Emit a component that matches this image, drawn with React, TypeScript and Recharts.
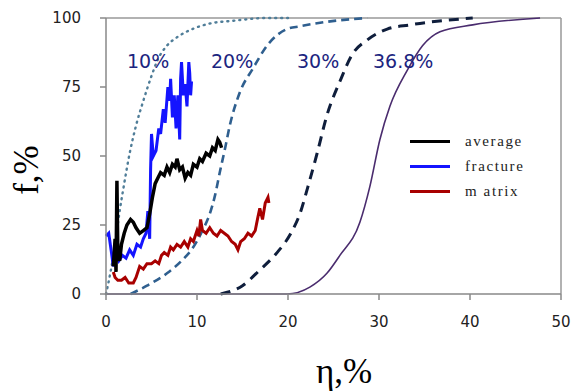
import React from "react";
import { LineChart, Line, XAxis, YAxis, ReferenceLine, Label } from "recharts";

const xTicks = [0, 10, 20, 30, 40, 50];
const yTicks = [0, 25, 50, 75, 100];

const curve10 = [
  { x: 0, y: 0 }, { x: 0.5, y: 8 }, { x: 1, y: 18 }, { x: 1.5, y: 30 }, { x: 2, y: 40 },
  { x: 2.6, y: 51 }, { x: 3.3, y: 61 }, { x: 4.1, y: 70 }, { x: 5, y: 79 }, { x: 5.7, y: 85 },
  { x: 6.7, y: 90 }, { x: 7.8, y: 93 }, { x: 9.5, y: 96 }, { x: 11.4, y: 98 }, { x: 14, y: 99 },
  { x: 17.7, y: 100 }, { x: 20, y: 100 },
];
const curve20 = [
  { x: 2.7, y: 0 }, { x: 4.5, y: 3 }, { x: 6.7, y: 7.5 }, { x: 8.3, y: 12 }, { x: 9.6, y: 17 },
  { x: 10.6, y: 23 }, { x: 11.4, y: 29 }, { x: 12, y: 36 }, { x: 12.5, y: 44 }, { x: 13.1, y: 53 },
  { x: 13.6, y: 61 }, { x: 14.7, y: 73 }, { x: 16.2, y: 82 }, { x: 17.7, y: 90 }, { x: 19.9, y: 96 },
  { x: 21.3, y: 97 }, { x: 24, y: 98.5 }, { x: 28.7, y: 100 },
];
const curve30 = [
  { x: 12.6, y: 0 }, { x: 15, y: 3 }, { x: 16.9, y: 8.7 }, { x: 18.8, y: 15 }, { x: 20.4, y: 22.5 },
  { x: 21.3, y: 29 }, { x: 22.2, y: 39 }, { x: 23.2, y: 51 }, { x: 24.3, y: 65 }, { x: 25.7, y: 77 },
  { x: 27.1, y: 87 }, { x: 28.7, y: 92 }, { x: 30.9, y: 96 }, { x: 33.4, y: 97.5 }, { x: 40.3, y: 100 },
];
const curve368 = [
  { x: 0, y: 0 }, { x: 19.9, y: 0 }, { x: 22.4, y: 2.5 }, { x: 24.3, y: 7.6 }, { x: 25.7, y: 14 },
  { x: 27.9, y: 26 }, { x: 29, y: 39 }, { x: 30.1, y: 56 }, { x: 31.2, y: 68 },
  { x: 33.1, y: 81 }, { x: 34.8, y: 90 }, { x: 36.7, y: 95 }, { x: 40.3, y: 97.5 }, { x: 47.7, y: 100 },
];

const fracture = [
  { x: 0, y: 21 }, { x: 0.3, y: 22 }, { x: 0.6, y: 15 }, { x: 0.8, y: 10 }, { x: 1.1, y: 14 },
  { x: 1.4, y: 12 }, { x: 1.8, y: 14 }, { x: 2.2, y: 13 }, { x: 2.6, y: 16 }, { x: 3.0, y: 14 },
  { x: 3.4, y: 18 }, { x: 3.8, y: 17 }, { x: 4.1, y: 20 }, { x: 4.4, y: 22 }, { x: 4.6, y: 30 },
  { x: 4.8, y: 20 }, { x: 4.9, y: 45 }, { x: 5.0, y: 58 }, { x: 5.2, y: 50 }, { x: 5.5, y: 52 },
  { x: 5.8, y: 60 }, { x: 6.0, y: 58 }, { x: 6.3, y: 67 }, { x: 6.5, y: 62 }, { x: 6.8, y: 75 },
  { x: 7.0, y: 70 }, { x: 7.1, y: 78 }, { x: 7.3, y: 64 }, { x: 7.5, y: 72 }, { x: 7.7, y: 60 },
  { x: 7.9, y: 72 }, { x: 8.1, y: 56 }, { x: 8.2, y: 78 }, { x: 8.3, y: 84 }, { x: 8.5, y: 72 },
  { x: 8.7, y: 76 }, { x: 8.9, y: 68 }, { x: 9.1, y: 84 }, { x: 9.2, y: 80 }, { x: 9.3, y: 72 },
  { x: 9.4, y: 77 },
];
const average = [
  { x: 0.8, y: 10 }, { x: 1.0, y: 20 }, { x: 1.1, y: 8 }, { x: 1.2, y: 41 }, { x: 1.3, y: 15 },
  { x: 1.5, y: 12 }, { x: 1.7, y: 18 }, { x: 2.0, y: 22 }, { x: 2.3, y: 25 }, { x: 2.7, y: 27 },
  { x: 3.0, y: 26 }, { x: 3.3, y: 24 }, { x: 3.7, y: 22 }, { x: 4.1, y: 23 }, { x: 4.5, y: 24 },
  { x: 4.8, y: 29 }, { x: 5.1, y: 35 }, { x: 5.4, y: 40 }, { x: 5.7, y: 42 }, { x: 6.0, y: 44 },
  { x: 6.4, y: 43 }, { x: 6.7, y: 46 }, { x: 7.0, y: 44 }, { x: 7.3, y: 47 }, { x: 7.6, y: 46 },
  { x: 7.8, y: 49 }, { x: 8.1, y: 45 }, { x: 8.4, y: 46 }, { x: 8.7, y: 42 }, { x: 9.0, y: 44 },
  { x: 9.3, y: 43 }, { x: 9.6, y: 47 }, { x: 10.0, y: 46 }, { x: 10.3, y: 49 }, { x: 10.6, y: 48 },
  { x: 11.0, y: 51 }, { x: 11.4, y: 50 }, { x: 11.7, y: 53 }, { x: 12.0, y: 52 }, { x: 12.3, y: 56 },
  { x: 12.5, y: 55 }, { x: 12.7, y: 53 },
];
const matrix = [
  { x: 0.8, y: 8 }, { x: 1.0, y: 6 }, { x: 1.3, y: 5 }, { x: 1.7, y: 5 }, { x: 2.1, y: 6 },
  { x: 2.5, y: 4 }, { x: 3.0, y: 4 }, { x: 3.3, y: 6 }, { x: 3.7, y: 10 }, { x: 4.1, y: 9 },
  { x: 4.5, y: 11 }, { x: 5.0, y: 11 }, { x: 5.4, y: 12 }, { x: 5.8, y: 11 }, { x: 6.1, y: 14 },
  { x: 6.4, y: 15 }, { x: 6.8, y: 14 }, { x: 7.1, y: 17 }, { x: 7.4, y: 16 }, { x: 7.8, y: 18 },
  { x: 8.2, y: 17 }, { x: 8.6, y: 19 }, { x: 9.0, y: 17 }, { x: 9.3, y: 20 }, { x: 9.6, y: 19 },
  { x: 10.0, y: 23 }, { x: 10.2, y: 21 }, { x: 10.4, y: 27 }, { x: 10.6, y: 23 }, { x: 11.0, y: 22 },
  { x: 11.4, y: 24 }, { x: 11.8, y: 22 }, { x: 12.2, y: 21 }, { x: 12.6, y: 23 }, { x: 13.0, y: 22 },
  { x: 13.4, y: 21 }, { x: 13.8, y: 19 }, { x: 14.2, y: 18 }, { x: 14.5, y: 16 }, { x: 14.8, y: 19 },
  { x: 15.2, y: 20 }, { x: 15.6, y: 22 }, { x: 16.0, y: 21 }, { x: 16.4, y: 23 }, { x: 16.7, y: 28 },
  { x: 16.9, y: 31 }, { x: 17.2, y: 27 }, { x: 17.5, y: 33 }, { x: 17.8, y: 35 }, { x: 17.9, y: 33 },
];

const curveLabels = [
  { text: "10%", left: 127 },
  { text: "20%", left: 211 },
  { text: "30%", left: 297 },
  { text: "36.8%", left: 373 },
];
const legendItems = [
  { name: "average", color: "#000000" },
  { name: "fracture", color: "#1414ff" },
  { name: "m atrix", color: "#a80000" },
];

const tickStyle = { fontFamily: "DejaVu Sans", fontSize: 15, fill: "#222" };
const titleStyle = { fontFamily: "Liberation Serif", fontSize: 35, fill: "#000" };

const XTitle = () => (
  <text x={344} y={383} textAnchor="middle" style={titleStyle}>
    η,%
  </text>
);
const YTitle = () => (
  <text x={38} y={170} textAnchor="middle" transform="rotate(-90 38 170)" style={titleStyle}>
    f,%
  </text>
);

export default function App() {
  return (
    <div style={{ position: "absolute", left: 0, top: 0, width: 582, height: 392, background: "#fff" }}>
      <LineChart width={582} height={392} margin={{ top: 18, right: 21, bottom: 0, left: 0 }}>
        <XAxis
          type="number"
          dataKey="x"
          domain={[0, 50]}
          ticks={xTicks}
          height={98}
          stroke="#888"
          strokeWidth={1.5}
          tickSize={6}
          tickMargin={16}
          tick={tickStyle}
          allowDuplicatedCategory={false}
        >
          <Label content={XTitle} />
        </XAxis>
        <YAxis
          type="number"
          dataKey="y"
          domain={[0, 100]}
          ticks={yTicks}
          width={106}
          stroke="#888"
          strokeWidth={1.5}
          tickSize={6}
          tickMargin={19}
          tick={tickStyle}
        >
          <Label content={YTitle} />
        </YAxis>
        <ReferenceLine y={100} stroke="#999" strokeWidth={1.5} />
        <ReferenceLine x={50} stroke="#999" strokeWidth={1.5} />
        <Line data={curve368} dataKey="y" type="monotone" stroke="#4a2c6e" strokeWidth={1.6} dot={false} isAnimationActive={false} />
        <Line data={curve30} dataKey="y" type="monotone" stroke="#0f1e3c" strokeWidth={3} strokeDasharray="10 7" dot={false} isAnimationActive={false} />
        <Line data={curve20} dataKey="y" type="monotone" stroke="#2f5f8f" strokeWidth={2.6} strokeDasharray="8 5" dot={false} isAnimationActive={false} />
        <Line data={curve10} dataKey="y" type="monotone" stroke="#4f7d98" strokeWidth={2.4} strokeDasharray="1 5" strokeLinecap="round" dot={false} isAnimationActive={false} />
        <Line data={matrix} dataKey="y" stroke="#a80000" strokeWidth={3} dot={false} isAnimationActive={false} />
        <Line data={fracture} dataKey="y" stroke="#1414ff" strokeWidth={3} dot={false} isAnimationActive={false} />
        <Line data={average} dataKey="y" stroke="#000000" strokeWidth={3.5} dot={false} isAnimationActive={false} />
      </LineChart>
      {curveLabels.map((c) => (
        <div
          key={c.text}
          style={{
            position: "absolute",
            left: c.left,
            top: 49,
            fontFamily: "DejaVu Sans",
            fontSize: 19,
            color: "#1c2580",
            lineHeight: "24px",
          }}
        >
          {c.text}
        </div>
      ))}
      {legendItems.map((l, i) => (
        <div key={l.name} style={{ position: "absolute", left: 410, top: 131 + i * 25, height: 20, display: "flex", alignItems: "center" }}>
          <div style={{ width: 40, height: 3, background: l.color }} />
          <span
            style={{
              marginLeft: 15,
              fontFamily: "Liberation Serif",
              fontSize: 15,
              letterSpacing: 1.6,
              color: "#222",
            }}
          >
            {l.name}
          </span>
        </div>
      ))}
    </div>
  );
}
